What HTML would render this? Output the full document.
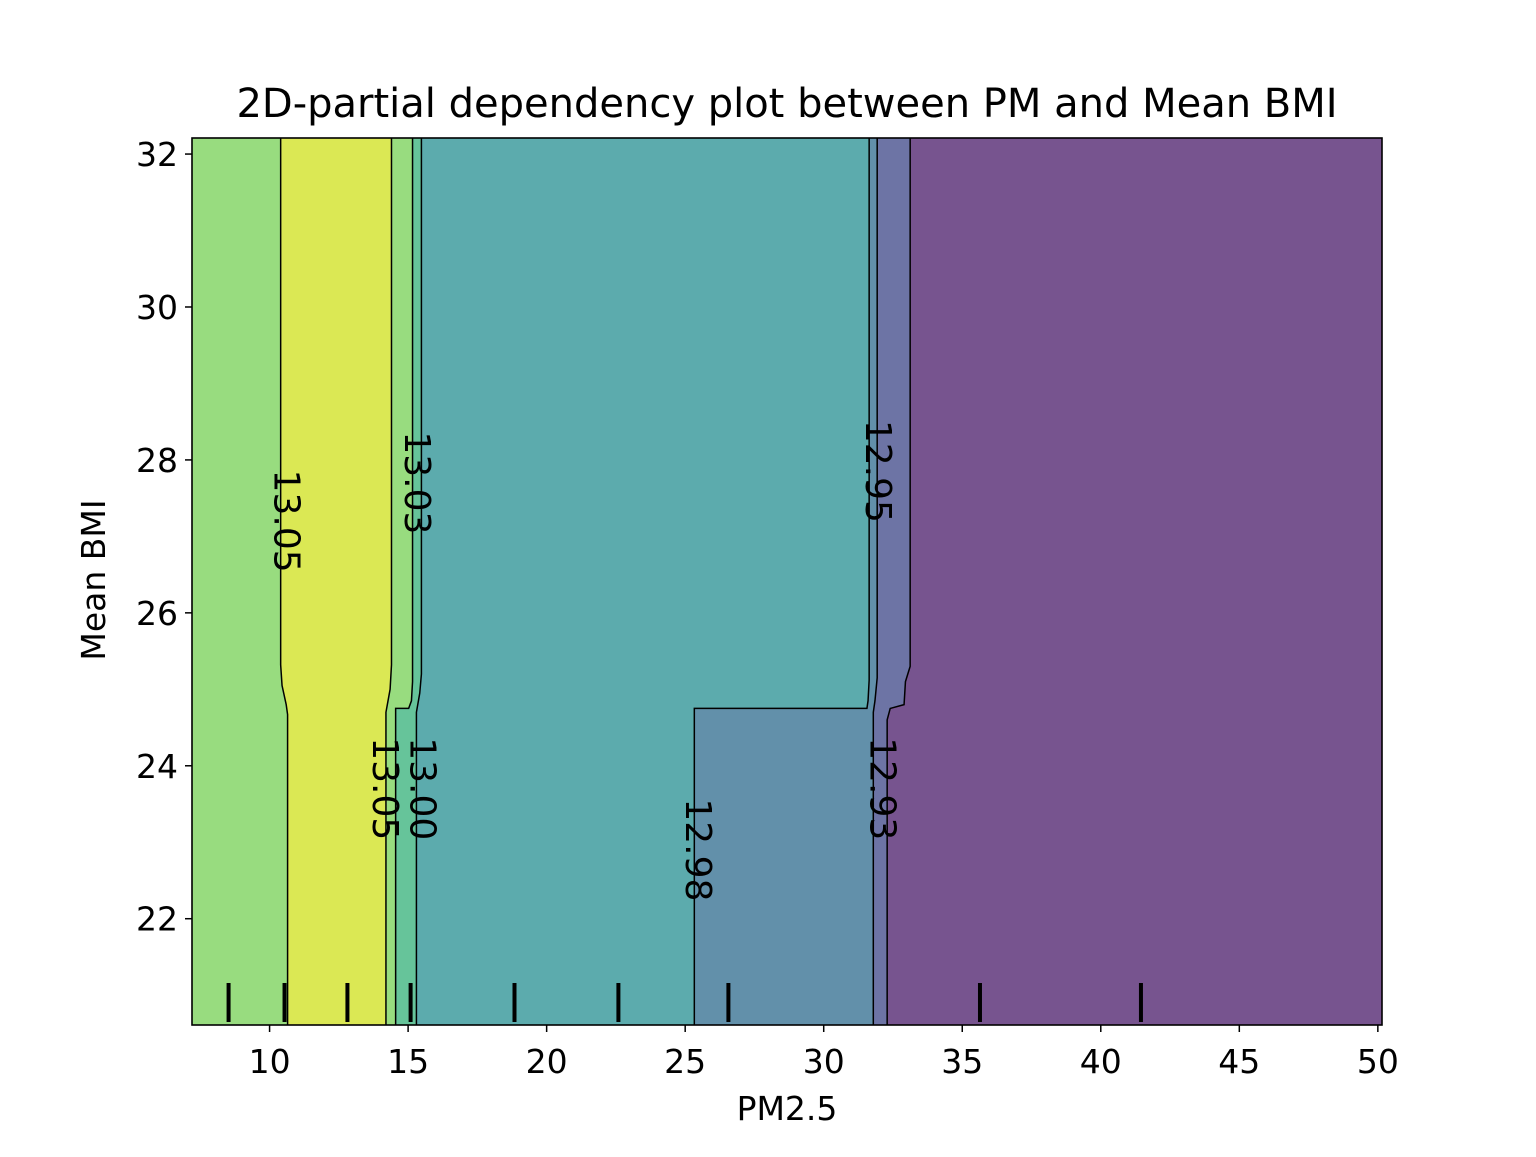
<!DOCTYPE html>
<html><head><meta charset="utf-8"><style>
body{margin:0;background:#fff}
svg text{font-family:"DejaVu Sans","Liberation Sans",sans-serif}
</style></head><body>
<svg id="chart" width="1536" height="1152">
<rect width="1536" height="1152" fill="#fff"/>
<g id="regions"></g>
<g id="lines"></g>
<g id="labels"></g>
<g id="rug"></g>
<rect x="192" y="138" width="1190" height="887" fill="none" stroke="#000" stroke-width="1.6"/>
<g id="axes"></g>
<text x="787" y="117" font-size="40" text-anchor="middle">2D-partial dependency plot between PM and Mean BMI</text>
<text x="787" y="1120" font-size="33" text-anchor="middle">PM2.5</text>
<text x="0" y="0" font-size="33" text-anchor="middle" transform="translate(105,580) rotate(-90)">Mean BMI</text>
</svg>
<script>
const xTicks=[10,15,20,25,30,35,40,45,50];
const yTicks=[22,24,26,28,30,32];
const rugValues=[8.52,10.54,12.81,15.09,18.84,22.59,26.56,35.64,41.45];
const regionColors=["#98dc7f","#dbe854","#98dc7f","#66c49a","#5cabad","#6290aa","#6d74a5","#77548f"];
const b1=[[10.4,32.3],[10.4,25.32],[10.45,25.05],[10.6,24.8],[10.65,24.67],[10.65,20.5]];
const b2=[[14.4,32.3],[14.4,25.32],[14.35,25.0],[14.25,24.8],[14.2,24.7],[14.2,20.5]];
const b3=[[15.16,32.3],[15.16,25.1],[15.12,24.85],[15.02,24.75],[14.55,24.75],[14.55,20.5]];
const b4=[[15.48,32.3],[15.48,25.2],[15.42,24.95],[15.3,24.7],[15.3,20.5]];
const b5=[[31.64,32.3],[31.64,25.12],[31.6,24.85],[31.56,24.75],[25.33,24.75],[25.33,20.5]];
const b6=[[31.93,32.3],[31.93,25.15],[31.85,24.85],[31.79,24.7],[31.79,20.5]];
const b7=[[33.12,32.3],[33.12,25.3],[32.95,25.1],[32.9,24.8],[32.4,24.75],[32.29,24.6],[32.29,20.5]];
const boundaries=[b1,b2,b3,b4,b5,b6,b7];
const labelTexts=["13.05","13.03","12.95","13.05","13.00","12.98","12.93"];
const labelX=[10.6,15.3,31.95,14.15,15.5,25.45,32.1];
const labelY=[27.2,27.7,27.85,23.7,23.7,22.9,23.7];

const X0=7.2,X1=50.15,Y0=20.61,Y1=32.21,L=192,R=1382,T=138,B=1025;
const sx=v=>L+(v-X0)/(X1-X0)*(R-L);
const sy=v=>B-(v-Y0)/(Y1-Y0)*(B-T);
const NS="http://www.w3.org/2000/svg";
function mk(tag,attrs,parent){const e=document.createElementNS(NS,tag);for(const k in attrs)e.setAttribute(k,attrs[k]);parent.appendChild(e);return e;}
const clip=mk("clipPath",{id:"pc"},document.getElementById("chart"));
mk("rect",{x:L,y:T,width:R-L,height:B-T},clip);
const rg=document.getElementById("regions");rg.setAttribute("clip-path","url(#pc)");
const lg=document.getElementById("lines");lg.setAttribute("clip-path","url(#pc)");
const r0=mk("rect",{x:L,y:T,width:R-L,height:B-T,fill:regionColors[0]},rg);


boundaries.forEach((b,i)=>{
  const pts=b.map(p=>sx(p[0])+","+sy(p[1]));
  const poly=mk("polygon",{points:pts.join(" ")+" "+(R+5)+","+sy(20.5)+" "+(R+5)+","+sy(32.3),fill:regionColors[i+1]},rg);
  
  
  const ln=mk("polyline",{points:pts.join(" "),fill:"none",stroke:"#000","stroke-width":1.5},lg);
  
  
});
const lab=document.getElementById("labels");
labelTexts.forEach((t,i)=>{
  const tx=mk("text",{x:0,y:0,"font-size":36,"text-anchor":"middle","dominant-baseline":"central",transform:`translate(${sx(labelX[i])},${sy(labelY[i])}) rotate(90)`},lab);
  tx.textContent=t;
  
  
});
const rug=document.getElementById("rug");
rugValues.forEach(v=>{
  const l=mk("line",{x1:sx(v),x2:sx(v),y1:983,y2:1022,stroke:"#000","stroke-width":4},rug);
  
  
});
const ax=document.getElementById("axes");
xTicks.forEach(v=>{
  const l=mk("line",{x1:sx(v),x2:sx(v),y1:B,y2:B+7,stroke:"#000","stroke-width":1.5},ax);
  
  
  const t=mk("text",{x:sx(v),y:B+48,"font-size":33,"text-anchor":"middle"},ax);
  t.textContent=v;
  
  
});
yTicks.forEach(v=>{
  const l=mk("line",{x1:L-7,x2:L,y1:sy(v),y2:sy(v),stroke:"#000","stroke-width":1.5},ax);
  
  
  const t=mk("text",{x:L-14,y:sy(v)+12,"font-size":33,"text-anchor":"end"},ax);
  t.textContent=v;
  
  
});
</script>
</body></html>
